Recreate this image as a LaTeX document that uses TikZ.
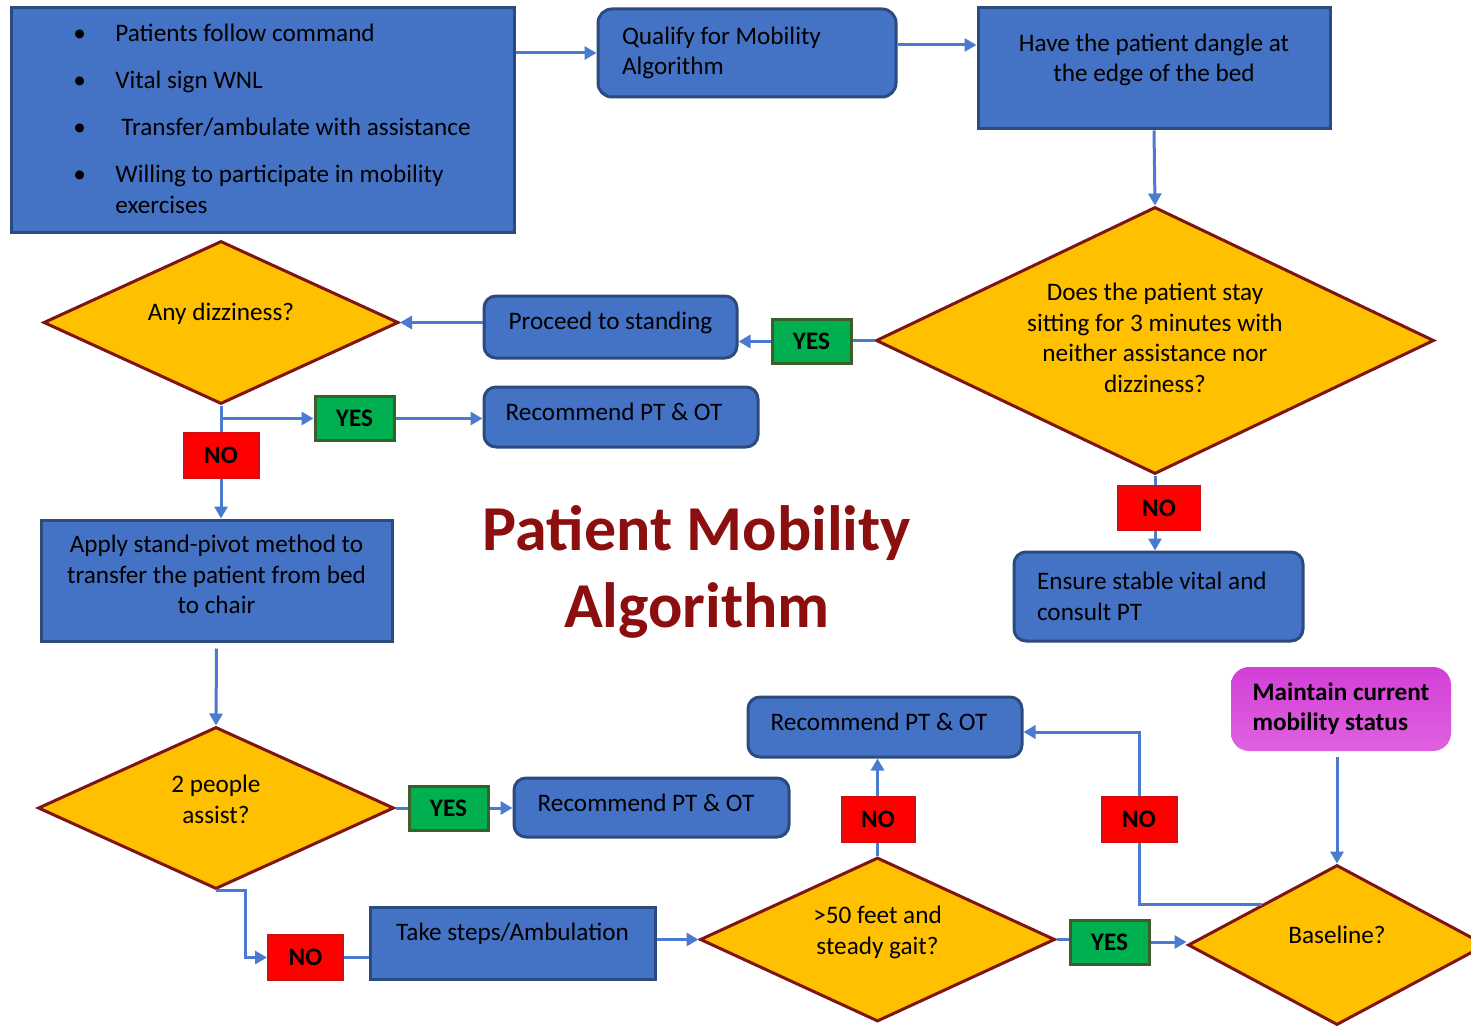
\documentclass[tikz,border=0pt]{standalone}
\usepackage{fontspec}
\setmainfont{Carlito}
\usetikzlibrary{shapes.geometric,arrows.meta,calc}

\definecolor{boxblue}{HTML}{4472C4}
\definecolor{boxedge}{HTML}{2B4A7E}
\definecolor{linkblue}{HTML}{4A7BD0}
\definecolor{gold}{HTML}{FFC000}
\definecolor{goldedge}{HTML}{7E1414}
\definecolor{yesgreen}{HTML}{00B050}
\definecolor{yesedge}{HTML}{3B5E2B}
\definecolor{nored}{HTML}{FF0000}
\definecolor{noedge}{HTML}{D01010}
\definecolor{titlered}{HTML}{8C0F0F}
\definecolor{magtop}{HTML}{D23FD6}
\definecolor{magbot}{HTML}{E062E0}

% centred block of lines, drawn raised by #1 without changing its size
\newcommand{\lift}[2]{\raisebox{#1}[\height][\depth]{\begin{tabular}{@{}c@{}}#2\end{tabular}}}

\begin{document}
\begin{tikzpicture}[x=0.5pt,y=-0.5pt,
  every node/.style={font=\fontsize{12.6}{15.2}\selectfont, text=black},
  bluebox/.style={rectangle, fill=boxblue, draw=boxedge, line width=1.5pt, inner sep=0pt},
  bluerbox/.style={bluebox, rounded corners=6pt},
  decision/.style={diamond, shape aspect=2, fill=gold, draw=goldedge, line width=1.5pt, inner sep=0pt},
  yestag/.style={rectangle, fill=yesgreen, draw=yesedge, line width=1.5pt, minimum width=39.5pt,
    minimum height=22pt, inner sep=0pt, font=\bfseries\fontsize{12.6}{15}\selectfont},
  notag/.style={rectangle, fill=nored, draw=noedge, line width=1pt, minimum width=37.5pt,
    minimum height=22.5pt, inner sep=0pt, font=\bfseries\fontsize{12.6}{15}\selectfont},
  link/.style={draw=linkblue, line width=1.5pt},
  flow/.style={link, -{Triangle[length=6pt,width=6.5pt]}}]

\useasboundingbox (0,0) rectangle (1471,1027);
\fill[white] (0,0) rectangle (1471,1027);
\clip (0,0) rectangle (1471,1027);

% entry criteria
\node[bluebox, minimum width=251.5pt, minimum height=112.5pt] (A) at (262.5,120.5) {};
\node[anchor=west, align=flush left, inner sep=0pt] (At) at (73,119) {%
  \makebox[21pt][l]{\textbullet}Patients follow command\\[8.3pt]
  \makebox[21pt][l]{\textbullet}Vital sign WNL\\[8.3pt]
  \makebox[21pt][l]{\textbullet}\hspace{3pt}Transfer/ambulate with assistance\\[8.3pt]
  \makebox[21pt][l]{\textbullet}Willing to participate in mobility\\
  \hspace*{21pt}exercises};

\node[bluerbox, rounded corners=7pt, minimum width=149pt, minimum height=44pt,
  text width=125pt, inner xsep=12pt, align=flush left] (B) at (747,53) {Qualify for Mobility\\Algorithm};
\node[bluebox, minimum width=176pt, minimum height=60.5pt] (C) at (1154,68.5)
  {\lift{4pt}{Have the patient dangle at\\the edge of the bed}};

% sitting check
\node[decision, minimum width=279pt, minimum height=133.5pt] (D1) at (1155,340.5)
  {\lift{0pt}{Does the patient stay\\sitting for 3 minutes with\\neither assistance nor\\dizziness?}};
\node[yestag] (Y1) at (811.5,341.5) {YES};
\node[bluerbox, minimum width=126.5pt, minimum height=31pt] (P) at (610.5,327) {\lift{2pt}{Proceed to standing}};
\node[notag, minimum width=41pt, minimum height=22pt] (N2) at (1159,508) {NO};
\node[bluerbox, minimum width=144.5pt, minimum height=44.5pt, text width=121.5pt,
  inner xsep=11.5pt, align=flush left] (E) at (1158.5,596.5) {Ensure stable vital and\\consult PT};

% standing check
\node[decision, minimum width=177.5pt, minimum height=81.5pt] (D2) at (221,322.5)
  {\lift{4pt}{Any dizziness?}};
\node[yestag] (Y2) at (354.5,418.5) {YES};
\node[bluerbox, minimum width=137pt, minimum height=30pt] (R1) at (621,417)
  {\hspace*{-3.5pt}\lift{1.5pt}{Recommend PT \& OT}\hspace*{3.5pt}};
\node[notag] (N1) at (221,455) {NO};
\node[bluebox, minimum width=175.5pt, minimum height=60.5pt] (Ap) at (216.5,580.5)
  {\lift{1.75pt}{Apply stand-pivot method to\\transfer the patient from bed\\to chair}};

% transfer check
\node[decision, minimum width=178pt, minimum height=81pt] (D3) at (216,808)
  {\lift{3pt}{2 people\\assist?}};
\node[yestag] (Y3) at (448.5,808) {YES};
\node[bluerbox, minimum width=137.5pt, minimum height=29.5pt] (R2) at (651.5,807.5)
  {\hspace*{-2.75pt}\lift{1pt}{Recommend PT \& OT}\hspace*{2.75pt}};
\node[notag] (N3) at (305.5,957.5) {NO};
\node[bluebox, minimum width=142.5pt, minimum height=36pt] (T) at (512.5,943)
  {\lift{4.5pt}{Take steps/Ambulation}};

% walking check
\node[decision, minimum width=177.5pt, minimum height=82pt] (D4) at (877.5,939.5)
  {\lift{3.25pt}{>50 feet and\\steady gait?}};
\node[notag, minimum width=36.5pt] (N4) at (878,819.5) {NO};
\node[bluerbox, minimum width=137pt, minimum height=30pt] (R3) at (885,727)
  {\hspace*{-3pt}\lift{1.5pt}{Recommend PT \& OT}\hspace*{3pt}};
\node[yestag] (Y4) at (1109.5,942) {YES};
\node[decision, minimum width=149pt, minimum height=80pt] (D5) at (1337,945)
  {\lift{4pt}{Baseline?}};
\node[notag] (N5) at (1139,819.5) {NO};
\node[rectangle, rounded corners=9pt, top color=magtop, bottom color=magbot,
  minimum width=110pt, minimum height=42pt, inner sep=0pt, align=flush left,
  font=\bfseries\fontsize{12.6}{15}\selectfont] (M) at (1341,709) {Maintain current\\mobility status};

% title
\node[font=\bfseries\fontsize{32}{38.5}\selectfont, text=titlered, align=center] (Title)
  at (697,571.5) {Patient Mobility\\Algorithm};

% connectors
\draw[flow] (A.east |- B.west) -- (B.west);
\draw[flow] ([yshift=4pt]B.east) -- ([yshift=4pt]B.east -| C.west);
\draw[flow] (C.south) -- (D1.north);
\draw[link] (D1.west) -- (D1.west -| Y1.east);
\draw[flow] (Y1.west) -- (Y1.west -| P.east);
\draw[link] (D1.south) -- (D1.south |- N2.north);
\draw[flow] (D1.south |- N2.south) -- (D1.south |- E.north);
\draw[flow] (P.west |- D2.east) -- (D2.east);
\draw[link] (D2.south) -- (N1.north);
\draw[flow] (N1.south) -- (N1.south |- Ap.north);
\draw[flow] (D2.south |- Y2.west) -- (Y2.west);
\draw[flow] (Y2.east) -- (Y2.east -| R1.west);
\draw[flow] ($(Ap.south)+(0,6)$) -- (D3.north);
\draw[link] (D3.east) -- (Y3.west);
\draw[flow] (Y3.east) -- (Y3.east -| R2.west);
\draw[flow] (D3.south) -- ++(29,0) |- (N3.west);
\draw[link] (N3.east) -- (N3.east -| T.west);
\draw[flow] (T.east |- D4.west) -- (D4.west);
\draw[link] (D4.north) -- (D4.north |- N4.south);
\draw[flow] (N4.north -| D4.north) -- (D4.north |- R3.south);
\draw[link] (D4.east) -- (D4.east -| Y4.west);
\draw[flow] (Y4.east) -- (Y4.east -| D5.west);
\draw[link] (D5.north west) -| (N5.south);
\draw[flow] (N5.north) |- ($(R3.east)+(0,5)$);
\draw[flow] ($(M.south -| D5.north)+(0,6)$) -- (D5.north);
\end{tikzpicture}
\end{document}
